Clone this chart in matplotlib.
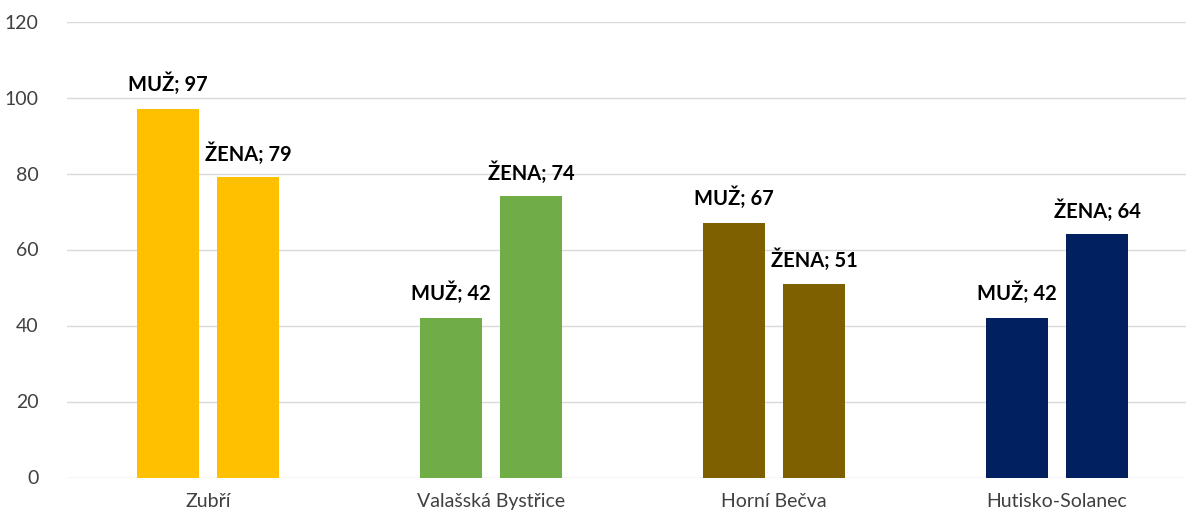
import matplotlib.pyplot as plt
import numpy as np

# Data
obce = ['Zubří', 'Valašská Bystřice', 'Horní Bečva', 'Hutisko-Solanec']
muz = [97, 42, 67, 42]
zena = [79, 74, 51, 64]
barvy = ['#FFC000', '#70AD47', '#7F6000', '#002060']

plt.rcParams['font.family'] = ['Lato', 'DejaVu Sans']

fig = plt.figure(figsize=(11.86, 5.14), dpi=100)
# axes goes a bit past the right edge, like the cropped original
ax = fig.add_axes([66.5 / 1186, 36.5 / 514, 1132 / 1186, 456 / 514])

x = np.arange(len(obce))
w = 0.22
off = 0.142

b1 = ax.bar(x - off, muz, w, color=barvy, zorder=3)
b2 = ax.bar(x + off, zena, w, color=barvy, zorder=3)

# popisky nad sloupci
for rect, v in zip(b1, muz):
    ax.annotate('MUŽ; %d' % v, (rect.get_x() + rect.get_width() / 2, v),
                xytext=(0, 10), textcoords='offset points', ha='center', va='bottom',
                fontsize=14.5, fontweight='bold', color='black')
for rect, v in zip(b2, zena):
    ax.annotate('ŽENA; %d' % v, (rect.get_x() + rect.get_width() / 2, v),
                xytext=(0, 9), textcoords='offset points', ha='center', va='bottom',
                fontsize=14.5, fontweight='bold', color='black')

ax.set_xlim(-0.5, 3.5)
ax.set_ylim(0, 120)
ax.set_yticks(range(0, 121, 20))
ax.set_xticks(x)
ax.set_xticklabels(obce)
ax.grid(axis='y', color='#D9D9D9', linewidth=1, zorder=0)
for s in ax.spines.values():
    s.set_visible(False)
ax.tick_params(axis='both', length=0, labelsize=14, colors='#404040')
ax.tick_params(axis='y', pad=20)
ax.tick_params(axis='x', pad=11)

plt.savefig('out.png', dpi=100)
